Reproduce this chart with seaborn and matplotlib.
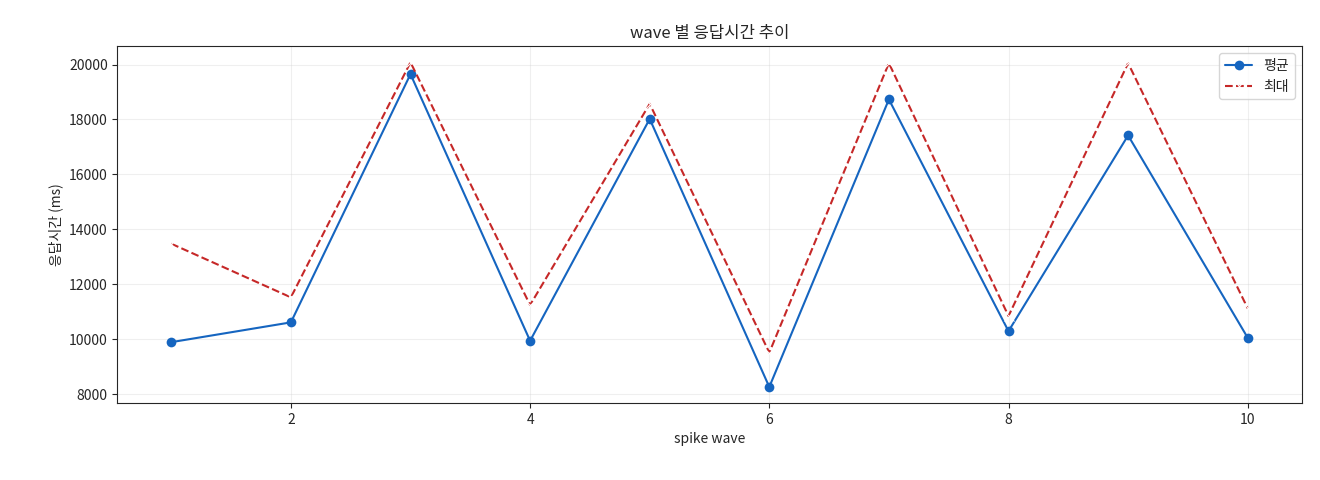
import matplotlib
matplotlib.use("Agg")
import matplotlib.pyplot as plt
import seaborn as sns
import pandas as pd

waves = [1, 2, 3, 4, 5, 6, 7, 8, 9, 10]
avg_ms = [9900, 10620, 19650, 9950, 18020, 8270, 18730, 10300, 17420, 10060]
max_ms = [13480, 11530, 20080, 11250, 18570, 9520, 20050, 10850, 20050, 11130]

sns.set_style("ticks")
plt.rcParams['font.family'] = ['Noto Sans CJK KR', 'DejaVu Sans']
plt.rcParams['axes.unicode_minus'] = False

df = pd.DataFrame({"wave": waves, "avg": avg_ms, "max": max_ms})
fig, ax = plt.subplots(figsize=(13.2, 4.8), dpi=100)
sns.lineplot(data=df, x="wave", y="avg", ax=ax, color="#1565c0", marker="o",
             markersize=7, markeredgewidth=0, label="평균", linewidth=1.5)
sns.lineplot(data=df, x="wave", y="max", ax=ax, color="#c62828", marker="x",
             markersize=7, linestyle="--", label="최대", linewidth=1.5)
ax.set_title("wave 별 응답시간 추이")
ax.set_xlabel("spike wave")
ax.set_ylabel("응답시간 (ms)")
ax.grid(True, alpha=0.3)
ax.legend(loc="upper right")
fig.subplots_adjust(left=0.089, right=0.986, top=0.904, bottom=0.16)
fig.savefig("out.png")
